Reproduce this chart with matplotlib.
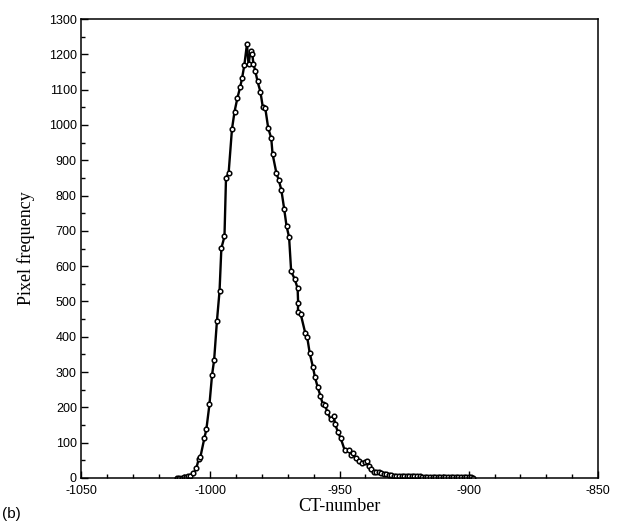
import matplotlib
matplotlib.use("Agg")
import matplotlib.pyplot as plt
from matplotlib.ticker import MultipleLocator

plt.rcParams["axes.unicode_minus"] = False

# ------------------------------------------------------------
# Data (CT-number vs pixel count)
# ------------------------------------------------------------
ct_left = [-1013, -1012, -1011, -1010, -1009.5, -1008.5, -1007.8, -1006.5,
           -1005.4, -1004.5, -1003.8, -1002.3, -1001.5, -1000.3, -999.3,
           -998.5, -997.4, -996.4, -995.7, -994.5, -993.9, -992.9, -991.6,
           -990.6, -989.5, -988.4, -987.7]
freq_left = [0, 1, 1, 2, 3, 5, 7, 13,
             27, 53, 60, 112, 138, 209, 292,
             334, 446, 530, 651, 684, 851, 863, 988,
             1038, 1076, 1108, 1132]

ct_peak = [-986.8, -985.8, -985.2, -984.4, -983.7, -983.3, -982.6]
freq_peak = [1170, 1229, 1172, 1210, 1200, 1172, 1154]

ct_right = [-981.7, -980.6, -979.7, -978.7, -977.6, -976.4, -975.9, -974.4,
            -973.5, -972.5, -971.4, -970.5, -969.5, -968.7, -967.3, -966.2,
            -966.0, -966.1, -965.0, -963.3, -962.5, -961.5, -960.3, -959.5,
            -958.5, -957.4, -956.5, -955.5, -954.8, -953.4, -952.2, -951.7,
            -950.6, -949.5, -948.0, -946.5, -945.6, -944.6, -943.8, -942.6,
            -941.3, -940.2, -939.3, -938.6, -937.7, -936.7, -935.8, -934.9,
            -933.9, -932.9, -932.0, -931.0, -930.0, -929.0, -928.0, -927.0,
            -926.0, -925.0, -924.0, -923.0, -922.0, -921.0, -920.0, -919.0,
            -918.0, -917.0, -916.0, -915.0, -914.0, -913.0, -912.0, -911.0,
            -910.0, -909.0, -908.0, -907.0, -906.0, -905.0, -904.0, -903.0,
            -902.0, -901.0, -900.0, -899.0, -898.5]
freq_right = [1123, 1094, 1052, 1047, 992, 962, 918, 863,
              844, 816, 762, 714, 682, 585, 563, 537,
              495, 471, 464, 412, 399, 353, 315, 286,
              259, 233, 210, 206, 188, 166, 176, 153,
              130, 112, 79, 79, 66, 70, 56, 48,
              42, 44, 48, 34, 25, 18, 16, 17,
              14, 12, 10, 9, 8, 7, 7, 6,
              6, 6, 5, 5, 5, 5, 5, 5,
              4, 4, 4, 4, 4, 4, 4, 4,
              4, 4, 3, 3, 3, 3, 3, 3,
              3, 3, 2, 2, 0]

ct = ct_left + ct_peak + ct_right
freq = freq_left + freq_peak + freq_right

x_ticks = [-1050, -1000, -950, -900, -850]
y_ticks = list(range(0, 1301, 100))

# ------------------------------------------------------------
# Plot
# ------------------------------------------------------------
fig = plt.figure(figsize=(6.22, 5.27), dpi=100)
ax = fig.add_axes([81 / 622, 1 - 478 / 527, (598 - 81) / 622, (478 - 19) / 527])

ax.plot(ct, freq, color="black", linewidth=1.7,
        marker="o", markersize=3.3, markerfacecolor="white",
        markeredgecolor="black", markeredgewidth=1.1)

ax.set_xlim(-1050, -850)
ax.set_ylim(0, 1300)
ax.set_xticks(x_ticks)
ax.set_yticks(y_ticks)
ax.xaxis.set_minor_locator(MultipleLocator(10))
ax.yaxis.set_minor_locator(MultipleLocator(50))

ax.tick_params(which="both", direction="in", top=False, right=False,
               width=1.0, color="black")
ax.tick_params(which="major", length=5, labelsize=9)
ax.tick_params(which="minor", length=3)
ax.tick_params(axis="x", which="major", pad=5)
ax.tick_params(axis="y", which="major", pad=3)
for lab in ax.get_xticklabels() + ax.get_yticklabels():
    lab.set_family("Liberation Sans")

for sp in ax.spines.values():
    sp.set_linewidth(1.1)

ax.set_xlabel("CT-number", family="Liberation Serif", fontsize=13, labelpad=1)
ax.set_ylabel("Pixel frequency", family="Liberation Serif", fontsize=13, labelpad=10)

fig.text(0.003, 0.018, "(b)", family="Liberation Sans", fontsize=11)

fig.savefig("out.png", dpi=100)
